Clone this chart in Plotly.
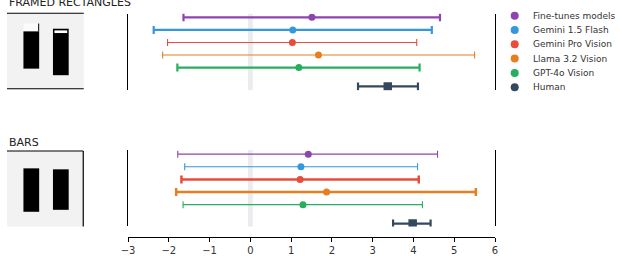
import plotly.graph_objects as go

W, H = 622, 256

models = ["Fine-tunes models", "Gemini 1.5 Flash", "Gemini Pro Vision",
          "Llama 3.2 Vision", "GPT-4o Vision", "Human"]
colors = ["#8e44ad", "#3498db", "#e74c3c", "#e67e22", "#27ae60", "#34495e"]
row_pos = [0, 1, 2, 3, 4, 5.5]

panel_titles = ["FRAMED RECTANGLES", "BARS"]

# Framed rectangles panel
fr_mean = [1.51, 1.04, 1.03, 1.67, 1.19, 3.37]
fr_low = [-1.64, -2.37, -2.03, -2.15, -1.79, 2.64]
fr_high = [4.65, 4.45, 4.08, 5.50, 4.15, 4.11]

# Bars panel
bar_mean = [1.42, 1.24, 1.22, 1.87, 1.29, 3.98]
bar_low = [-1.78, -1.61, -1.69, -1.82, -1.65, 3.50]
bar_high = [4.59, 4.10, 4.13, 5.53, 4.22, 4.42]

x_ticks = [-3, -2, -1, 0, 1, 2, 3, 4, 5, 6]

# styles (line thickness per series, per panel)
fr_thick = [2.2, 2.2, 1.1, 1.1, 2.2, 2.2]
bar_thick = [1.1, 1.1, 2.5, 2.5, 1.1, 2.2]


def px(x):
    return x / W


def py(y):
    return 1 - y / H


fig = go.Figure()

panels = [
    (fr_mean, fr_low, fr_high, fr_thick, "x", "y"),
    (bar_mean, bar_low, bar_high, bar_thick, "x2", "y2"),
]
for mean, low, high, thick, xa, ya in panels:
    for i, m in enumerate(models):
        human = m == "Human"
        fig.add_trace(go.Scatter(
            x=[mean[i]], y=[row_pos[i]], mode="markers",
            xaxis=xa, yaxis=ya, showlegend=False,
            marker=dict(color=colors[i], size=8.5 if human else 7,
                        symbol="square" if human else "circle"),
            error_x=dict(type="data", symmetric=False,
                         array=[high[i] - mean[i]],
                         arrayminus=[mean[i] - low[i]],
                         color=colors[i], thickness=thick[i],
                         width=4 if thick[i] > 2 else 3.5),
        ))

# manual legend
for i, m in enumerate(models):
    fig.add_trace(go.Scatter(
        x=[0], y=[i], mode="markers", xaxis="x3", yaxis="y3",
        showlegend=False, hoverinfo="skip",
        marker=dict(color=colors[i], size=8, symbol="circle"),
    ))
    fig.add_annotation(x=16.7, y=i, xref="x3", yref="y3", text=m,
                       showarrow=False, xanchor="left", yanchor="middle",
                       font=dict(size=9, color="#333333", family="DejaVu Sans"))

shapes = []
# zero band
for xr, yr in [("x", "y domain"), ("x2", "y2 domain")]:
    shapes.append(dict(type="rect", xref=xr, yref=yr, x0=-0.06, x1=0.06,
                       y0=0, y1=1, fillcolor="#eaecf0", line=dict(width=0),
                       layer="below"))


def rect(x0, y0, x1, y1, fill, line=None):
    shapes.append(dict(type="rect", xref="paper", yref="paper",
                       x0=px(x0), x1=px(x1), y0=py(y1), y1=py(y0),
                       fillcolor=fill, line=dict(width=0) if line is None else line,
                       layer="above"))


def seg(x0, y0, x1, y1, w=1.2):
    shapes.append(dict(type="line", xref="paper", yref="paper",
                       x0=px(x0), x1=px(x1), y0=py(y0), y1=py(y1),
                       line=dict(color="black", width=w)))


# top thumbnail (framed rectangles)
rect(0, 13.5, 78, 90.5, "#f2f2f2")
seg(0, 13.5, 78, 13.5)
seg(0, 90.5, 78, 90.5)
rect(16.7, 24, 32.7, 32, "#fbfbfb")
rect(16.7, 32, 32.7, 70, "black")
seg(32.2, 24, 32.2, 32, 1)
rect(46.7, 29.3, 62.7, 76.7, "black")
rect(48.2, 31, 61.2, 33.7, "white")

# bottom thumbnail (bars)
rect(0, 154, 77.5, 231, "#f2f2f2")
seg(0, 154, 77.5, 154)
seg(77.5, 154, 77.5, 231)
rect(16.7, 171.7, 32.7, 216, "black")
rect(46.7, 172.7, 62.7, 214, "black")

fig.add_annotation(x=0, y=py(2.5), xref="paper", yref="paper",
                   text=panel_titles[0], showarrow=False, xanchor="left",
                   yanchor="middle",
                   font=dict(size=11, color="#222222", family="DejaVu Sans"))
fig.add_annotation(x=0, y=py(145.5), xref="paper", yref="paper",
                   text=panel_titles[1], showarrow=False, xanchor="left",
                   yanchor="middle",
                   font=dict(size=11, color="#222222", family="DejaVu Sans"))

xdom = [px(123), px(496)]
yax_common = dict(showline=True, mirror=True, linecolor="black", linewidth=1.2,
                  ticks="", showticklabels=False, showgrid=False, zeroline=False)

fig.update_layout(
    width=W, height=H, margin=dict(l=0, r=0, t=0, b=0),
    paper_bgcolor="white", plot_bgcolor="white",
    shapes=shapes, hovermode=False,
    xaxis=dict(domain=xdom, range=[-3, 6], anchor="y", showline=False,
               showticklabels=False, ticks="", showgrid=False, zeroline=False),
    yaxis=dict(domain=[py(92), py(14)], range=[5.8, -0.29], anchor="x",
               **yax_common),
    xaxis2=dict(domain=xdom, range=[-3, 6], anchor="free",
                position=py(241.7), showline=True, linecolor="black",
                linewidth=1.2, ticks="outside", ticklen=4, tickcolor="black",
                tickvals=x_ticks, showgrid=False, zeroline=False,
                tickfont=dict(size=10, color="#333333", family="DejaVu Sans")),
    yaxis2=dict(domain=[py(231), py(153)], range=[5.73, -0.33], anchor="x2",
                **yax_common),
    xaxis3=dict(domain=[px(505), 1], range=[-11, 106], anchor="y3",
                visible=False),
    yaxis3=dict(domain=[py(96), py(8)], range=[5.48, -0.548], anchor="x3",
                visible=False),
)

fig.write_html(
    "out.html",
    config={"displayModeBar": False},
    post_script="document.body.style.margin='0';"
                "document.body.style.overflow='hidden';",
)
